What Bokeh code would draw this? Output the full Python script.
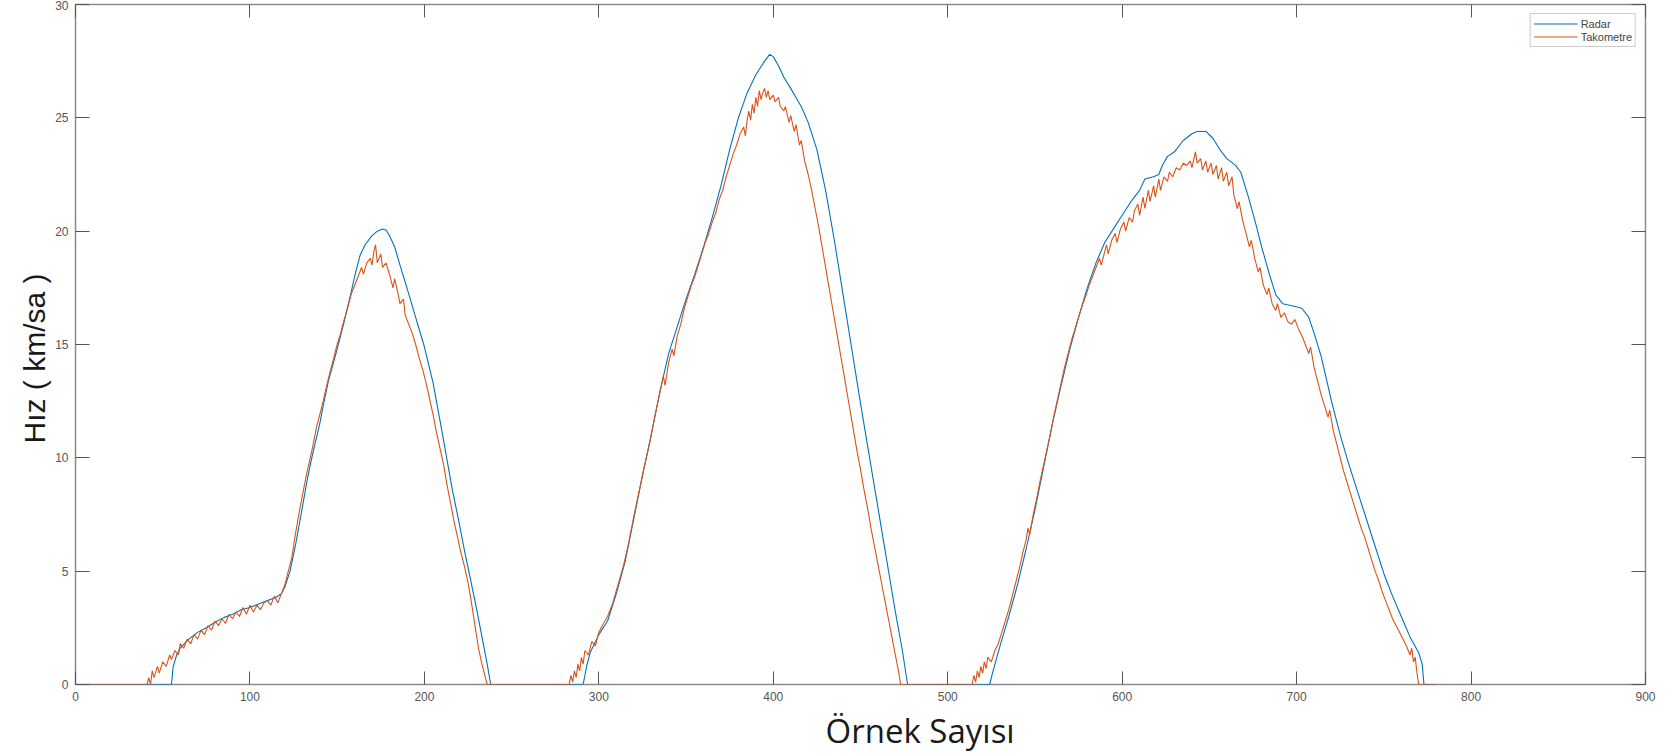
from bokeh.plotting import figure
from bokeh.models import LinearAxis, Title, Legend, LegendItem, FixedTicker, Range1d, CustomLabelingPolicy
from bokeh.embed import file_html
from bokeh.resources import INLINE

# ---------------- data ----------------
x_ticks = [0, 100, 200, 300, 400, 500, 600, 700, 800, 900]
y_ticks = [0, 5, 10, 15, 20, 25, 30]

radar_x = [0, 55, 56, 58, 60, 65, 70, 75, 80, 85, 90, 95, 100, 105, 110, 115, 118, 120, 123, 126,
           130, 133, 136, 140, 142, 145, 150, 154, 158, 160, 163, 166, 170, 173, 176, 178, 180, 183,
           186, 190, 195, 200, 205, 210, 213, 216, 220, 223, 226, 230, 233, 236, 238,
           291, 293, 295, 300, 305, 310, 315, 320, 325, 330, 335, 340, 345, 350, 355, 360, 365, 370,
           375, 380, 385, 390, 395, 398, 400, 403, 406, 410, 413, 416, 420, 425, 430, 435, 440, 445,
           450, 455, 460, 465, 470, 474, 477,
           524, 526, 530, 535, 540, 545, 550, 555, 560, 565, 570, 575, 580, 585, 590, 595, 600, 605,
           610, 613, 618, 621, 623, 626, 630, 635, 640, 643, 648, 652, 656, 660, 665, 668, 672, 676,
           680, 684, 688, 692, 698, 703, 707, 710, 714, 720, 725, 730, 735, 740, 745, 750, 755, 760,
           765, 770, 772, 773, 780]
radar_y = [0, 0, 0.8, 1.3, 1.6, 2.0, 2.3, 2.5, 2.75, 2.95, 3.1, 3.3, 3.4, 3.55, 3.7, 3.85, 4.0, 4.3, 5.0, 6.1,
           7.8, 9.1, 10.2, 11.5, 12.3, 13.4, 14.8, 16.0, 17.3, 18.0, 18.9, 19.4, 19.8, 20.0, 20.1, 20.05, 19.8, 19.3,
           18.5, 17.5, 16.2, 14.9, 13.3, 11.2, 9.9, 8.6, 7.1, 5.9, 4.8, 3.3, 2.1, 0.9, 0,
           0, 0.8, 1.4, 2.2, 2.8, 4.0, 5.4, 7.3, 9.2, 11.0, 12.9, 14.6, 15.8, 17.0, 18.1, 19.3, 20.6, 22.0,
           23.6, 25.0, 26.1, 26.9, 27.5, 27.8, 27.7, 27.3, 26.8, 26.3, 25.9, 25.5, 24.8, 23.6, 21.8, 19.6, 17.2, 14.8,
           12.4, 10.1, 7.8, 5.5, 3.2, 1.5, 0,
           0, 0.6, 1.7, 3.0, 4.4, 6.0, 7.7, 9.6, 11.5, 13.2, 14.8, 16.2, 17.5, 18.6, 19.5, 20.1, 20.7, 21.3,
           21.8, 22.3, 22.4, 22.5, 22.9, 23.3, 23.5, 24.0, 24.3, 24.4, 24.4, 24.1, 23.6, 23.2, 22.9, 22.6, 21.6, 20.5,
           19.3, 18.2, 17.2, 16.8, 16.7, 16.6, 16.2, 15.5, 14.5, 12.5, 11.0, 9.7, 8.5, 7.3, 6.1, 4.9, 3.9, 3.0,
           2.1, 1.4, 0.9, 0, 0]

tacho_pts_1 = [(0, 0), (41, 0), (42, 0.3), (43, 0.0), (44, 0.6), (45, 0.3), (47, 0.8), (48, 0.5), (50, 1.0),
               (52, 0.8), (54, 1.3), (55, 1.1), (57, 1.5), (59, 1.3), (60, 1.8), (62, 1.6), (64, 2.0), (66, 1.8),
               (68, 2.2), (70, 2.0), (72, 2.4), (74, 2.2), (76, 2.6), (78, 2.4), (80, 2.8), (82, 2.6), (84, 2.9),
               (86, 2.7), (88, 3.1), (90, 2.9), (92, 3.2), (94, 3.0), (96, 3.4), (98, 3.1), (100, 3.5), (102, 3.2),
               (104, 3.5), (106, 3.3), (108, 3.6), (110, 3.7), (112, 3.5), (114, 3.9), (116, 3.6), (118, 4.0),
               (120, 4.4), (122, 5.0), (124, 5.6), (126, 6.6), (128, 7.5), (130, 8.3), (132, 9.1), (134, 9.8),
               (136, 10.5), (138, 11.3), (140, 11.9), (142, 12.5), (144, 13.2), (146, 13.8), (148, 14.4),
               (150, 15.0), (152, 15.5), (154, 16.1), (156, 16.6), (158, 17.2), (160, 17.6), (162, 18.0),
               (164, 18.4), (165, 18.1), (167, 18.6), (169, 18.8), (170, 18.5), (171, 19.1), (172, 19.4),
               (173, 18.6), (175, 19.0), (176, 18.4), (178, 18.6), (180, 18.1), (182, 17.5), (183, 17.9),
               (185, 17.2), (186, 16.8), (188, 17.0), (189, 16.3), (191, 15.9), (193, 15.5), (195, 15.0),
               (197, 14.4), (199, 13.9), (201, 13.3), (203, 12.6), (205, 11.9), (207, 11.1), (209, 10.4),
               (211, 9.7), (213, 8.8), (215, 8.0), (217, 7.2), (219, 6.5), (221, 5.8), (223, 5.2), (225, 4.5),
               (227, 3.6), (229, 2.6), (231, 1.6), (233, 0.9), (235, 0.3), (236, 0)]
tacho_pts_2 = [(283, 0), (284, 0.4), (285, 0.1), (286, 0.6), (287, 0.3), (288, 0.9), (289, 0.6), (290, 1.2),
               (291, 0.9), (292, 1.5), (294, 1.3), (296, 1.9), (298, 1.7), (300, 2.3), (302, 2.6), (305, 3.0),
               (308, 3.6), (311, 4.4), (314, 5.2), (317, 6.2), (320, 7.4), (323, 8.5), (326, 9.6), (329, 10.6),
               (332, 11.8), (335, 12.9), (337, 13.6), (338, 13.2), (340, 14.2), (342, 14.8), (343, 14.5),
               (345, 15.4), (347, 15.9), (349, 16.6), (351, 17.1), (353, 17.6), (355, 18.0), (357, 18.5),
               (359, 19.0), (361, 19.5), (363, 19.9), (365, 20.4), (367, 20.8), (369, 21.4), (371, 21.8),
               (373, 22.4), (375, 22.9), (377, 23.4), (379, 23.8), (381, 24.3), (383, 24.6), (384, 24.2),
               (385, 24.9), (386, 25.3), (387, 24.9), (388, 25.6), (389, 25.2), (390, 25.9), (391, 25.5),
               (392, 26.2), (393, 25.8), (394, 26.1), (395, 26.3), (396, 25.9), (397, 26.2), (398, 25.8),
               (400, 26.0), (401, 25.7), (403, 25.9), (404, 25.5), (406, 25.3), (407, 25.5), (409, 24.8),
               (410, 25.1), (412, 24.4), (413, 24.7), (415, 23.8), (416, 24.0), (418, 23.1), (420, 22.5),
               (422, 21.8), (424, 21.0), (426, 20.2), (428, 19.3), (430, 18.4), (432, 17.5), (434, 16.6),
               (436, 15.7), (438, 14.8), (440, 13.9), (442, 13.0), (444, 12.1), (446, 11.2), (448, 10.3),
               (450, 9.5), (452, 8.6), (454, 7.8), (456, 6.9), (458, 6.1), (460, 5.3), (462, 4.5), (464, 3.7),
               (466, 2.9), (468, 2.1), (470, 1.3), (472, 0.5), (473, 0)]
tacho_pts_3 = [(514, 0), (515, 0.4), (516, 0.1), (517, 0.6), (518, 0.3), (519, 0.8), (520, 0.5), (521, 1.0),
               (522, 0.7), (523, 1.2), (525, 1.0), (527, 1.5), (529, 1.8), (531, 2.3), (533, 2.8), (535, 3.3),
               (537, 3.9), (539, 4.5), (541, 5.1), (543, 5.8), (545, 6.4), (546, 6.9), (547, 6.6), (549, 7.5),
               (551, 8.2), (553, 9.0), (555, 9.7), (557, 10.4), (559, 11.1), (561, 11.9), (563, 12.6),
               (565, 13.3), (567, 14.0), (569, 14.6), (571, 15.2), (573, 15.7), (575, 16.2), (577, 16.7),
               (579, 17.1), (581, 17.6), (583, 18.0), (585, 18.4), (587, 18.8), (588, 18.5), (590, 19.1),
               (591, 19.4), (592, 19.0), (594, 19.6), (596, 19.9), (597, 19.5), (599, 20.1), (601, 20.4),
               (602, 20.0), (604, 20.6), (606, 20.4), (607, 20.9), (609, 21.2), (610, 20.7), (612, 21.5),
               (613, 21.0), (615, 21.8), (616, 21.3), (618, 22.0), (619, 21.5), (621, 22.3), (622, 21.8),
               (624, 22.4), (626, 22.2), (627, 22.6), (629, 22.4), (631, 22.8), (633, 22.7), (635, 23.0),
               (637, 22.9), (639, 23.1), (640, 22.8), (642, 23.5), (643, 23.0), (645, 23.2), (646, 22.7),
               (648, 23.1), (649, 22.6), (651, 23.0), (652, 22.5), (654, 22.9), (655, 22.3), (657, 22.8),
               (658, 22.2), (660, 22.6), (661, 22.0), (663, 22.4), (664, 21.6), (666, 21.0), (667, 21.3),
               (669, 20.5), (671, 19.9), (673, 19.3), (674, 19.6), (676, 18.8), (678, 18.2), (679, 18.4),
               (681, 17.6), (683, 17.2), (684, 17.5), (686, 16.8), (688, 16.5), (689, 16.8), (691, 16.2),
               (693, 16.4), (695, 16.0), (697, 15.9), (699, 16.1), (701, 15.7), (703, 15.4), (705, 15.0),
               (707, 14.6), (708, 14.9), (710, 14.0), (712, 13.4), (714, 12.8), (716, 12.3), (718, 11.8),
               (719, 12.1), (721, 11.2), (723, 10.6), (725, 10.0), (727, 9.4), (729, 8.9), (731, 8.4),
               (733, 7.9), (735, 7.4), (737, 6.9), (739, 6.5), (741, 6.0), (743, 5.5), (745, 5.0), (747, 4.6),
               (749, 4.1), (751, 3.7), (753, 3.3), (755, 2.9), (757, 2.6), (759, 2.3), (761, 2.0), (763, 1.7),
               (765, 1.3), (766, 1.6), (767, 1.0), (768, 1.2), (769, 0.5), (770, 0), (780, 0)]

tacho_all = tacho_pts_1 + tacho_pts_2 + tacho_pts_3
tacho_x = [pt[0] for pt in tacho_all]
tacho_y = [pt[1] for pt in tacho_all]
assert len(radar_x) == len(radar_y)

BLUE = "#0072BD"
ORANGE = "#D95319"
FRAME = "#8a8a8a"
TICK = "#555555"

p = figure(width=1668, height=755, x_range=Range1d(0, 900), y_range=Range1d(0, 30),
           output_backend="svg", toolbar_location=None,
           min_border_left=75, min_border_right=23, min_border_top=0, min_border_bottom=69,
           background_fill_color="white", border_fill_color="white")
p.grid.visible = False
p.outline_line_color = FRAME
p.outline_line_width = 1.5

r1 = p.line(radar_x, radar_y, line_color=BLUE, line_width=1.1)
r2 = p.line(tacho_x, tacho_y, line_color=ORANGE, line_width=1.1)

xa = p.xaxis[0]
ya = p.yaxis[0]
for ax in (xa, ya):
    ax.axis_line_color = None
    ax.major_tick_out = 0
    ax.minor_tick_line_color = None
    ax.major_tick_line_color = TICK
    ax.major_label_text_font = "Liberation Sans"
    ax.major_label_text_font_size = "12px"
    ax.major_label_text_color = "#555555"
    ax.major_label_standoff = 7
xa.ticker = FixedTicker(ticks=x_ticks)
ya.ticker = FixedTicker(ticks=y_ticks)
xa.major_tick_in = 13
ya.major_tick_in = 14

# y-axis title placed as a left-side title so it can sit slightly below centre, as in the source
yt = Title(text="Hız ( km/sa )", align="left", offset=241, standoff=4,
           text_font="Liberation Sans", text_font_size="30px", text_font_style="normal",
           text_color="#1a1a1a")
p.add_layout(yt, "left")

# mirrored ticks on top and right (labels suppressed by the labeling policy)
no_labels = CustomLabelingPolicy(code="""
const all = [];
for (const i of indices) all.push(i);
for (const i of all) indices.unset(i);
return indices;
""")
top = LinearAxis(ticker=FixedTicker(ticks=x_ticks), major_label_policy=no_labels,
                 major_label_text_font_size="1px",
                 major_label_standoff=0, major_tick_out=0, major_tick_in=13,
                 axis_line_color=None, minor_tick_line_color=None, major_tick_line_color=TICK)
right = LinearAxis(ticker=FixedTicker(ticks=y_ticks), major_label_policy=no_labels,
                   major_label_text_font_size="1px",
                   major_label_standoff=0, major_tick_out=0, major_tick_in=14,
                   axis_line_color=None, minor_tick_line_color=None, major_tick_line_color=TICK)
p.add_layout(top, "above")
p.add_layout(right, "right")

xt = Title(text="Örnek Sayısı", align="left", offset=750, standoff=5,
           text_font="Open Sans", text_font_size="33px", text_font_style="normal",
           text_color="#1a1a1a")
p.add_layout(xt, "below")

legend = Legend(items=[LegendItem(label="Radar", renderers=[r1]),
                       LegendItem(label="Takometre", renderers=[r2])],
                location="top_right", margin=9, padding=3, spacing=0,
                glyph_width=44, glyph_height=13, label_height=13,
                label_text_font="Liberation Sans", label_text_font_size="11px",
                label_text_color="#444444", label_standoff=3,
                border_line_color="#9a9a9a", border_line_width=1,
                background_fill_alpha=1)
p.add_layout(legend)

open("out.html", "w").write(file_html(p, INLINE))
